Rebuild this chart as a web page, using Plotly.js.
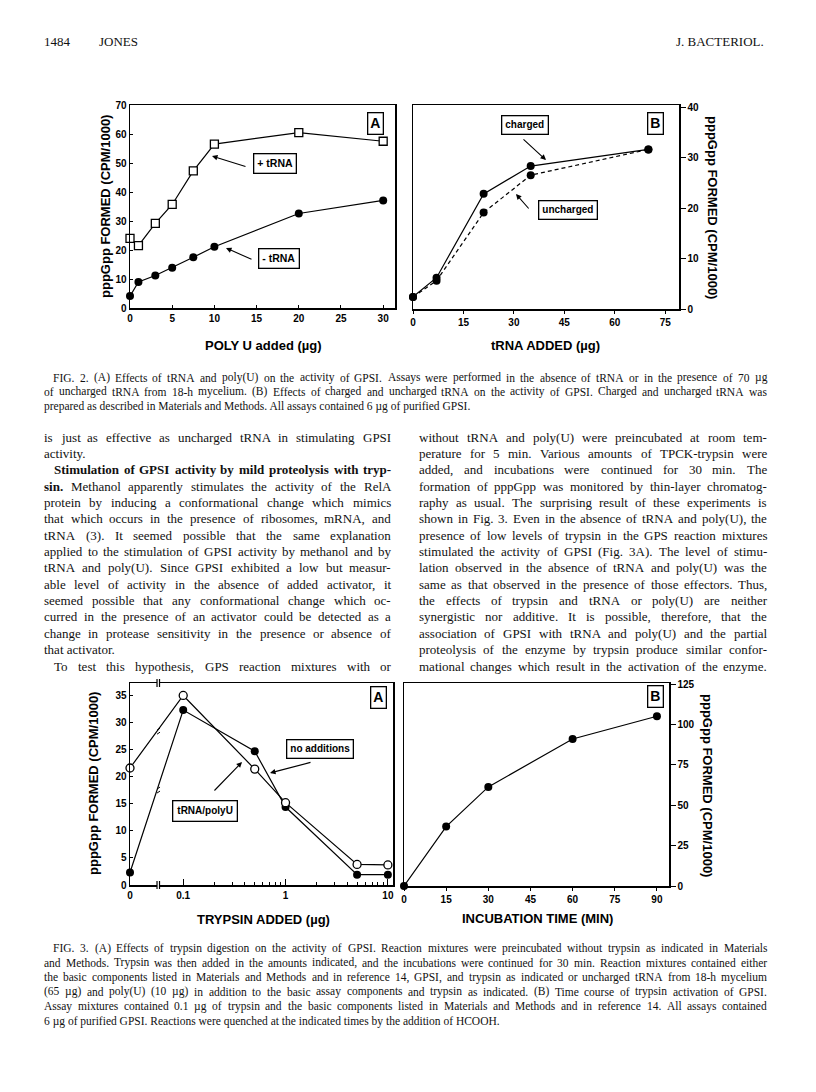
<!DOCTYPE html>
<html><head><meta charset="utf-8">
<script src="https://cdn.plot.ly/plotly-3.0.1.min.js"></script>
<style>html,body{margin:0;padding:0;background:#fff}#page{width:816px;height:1092px}</style>
</head><body><div id="page"></div>
<script>
// ---------- DATA ----------
// Fig 2A
const polyU = [0, 1, 3, 5, 7.5, 10, 20, 30];
const plusTRNA = [24, 21.5, 29.2, 35.7, 47.3, 56.5, 60.5, 57.5];
const minusTRNA = [4.1, 9, 11.2, 13.9, 17.5, 21.1, 32.6, 37.1];
// Fig 2B
const tRNAadded = [0, 7, 21, 35, 70];
const charged = [2.4, 6.2, 22.8, 28.3, 31.6];
const uncharged = [2.4, 5.6, 19.1, 26.5, 31.6];
// Fig 3A
const trypsin = [0, 0.1, 0.5, 1, 5, 10];
const tRNApolyU = [21.6, 35, 21.4, 15.2, 3.8, 3.7];
const noAdditions = [2.3, 32.3, 24.7, 14.4, 1.9, 1.9];
// Fig 3B
const incTime = [0, 15, 30, 60, 90];
const incFormed = [0, 36.8, 61.4, 91.1, 105.2];
// Ticks
const ticks2A_x = [0, 5, 10, 15, 20, 25, 30];
const ticks2A_y = [0, 10, 20, 30, 40, 50, 60, 70];
const ticks2B_x = [0, 15, 30, 45, 60, 75];
const ticks2B_y = [0, 10, 20, 30, 40];
const ticks3A_x = [0, 0.1, 1, 10];
const ticks3A_xText = ['0', '0.1', '1', '10'];
const minor3A_x = [0.2,0.3,0.4,0.5,0.6,0.7,0.8,0.9,2,3,4,5,6,7,8,9];
const ticks3A_y = [0, 5, 10, 15, 20, 25, 30, 35];
const ticks3B_x = [0, 15, 30, 45, 60, 75, 90];
const ticks3B_y = [0, 25, 50, 75, 100, 125];

// Text
const header = ['1484', 'JONES', 'J. BACTERIOL.'];
const cap2 = [
 'FIG. 2. (A) Effects of tRNA and poly(U) on the activity of GPSI. Assays were performed in the absence of tRNA or in the presence of 70 µg',
 'of uncharged tRNA from 18-h mycelium. (B) Effects of charged and uncharged tRNA on the activity of GPSI. Charged and uncharged tRNA was',
 'prepared as described in Materials and Methods. All assays contained 6 µg of purified GPSI.'
];
const bodyLeft = [
 'is just as effective as uncharged tRNA in stimulating GPSI',
 'activity.',
 'Stimulation of GPSI activity by mild proteolysis with tryp-',
 'sin. Methanol apparently stimulates the activity of the RelA',
 'protein by inducing a conformational change which mimics',
 'that which occurs in the presence of ribosomes, mRNA, and',
 'tRNA (3). It seemed possible that the same explanation',
 'applied to the stimulation of GPSI activity by methanol and by',
 'tRNA and poly(U). Since GPSI exhibited a low but measur-',
 'able level of activity in the absence of added activator, it',
 'seemed possible that any conformational change which oc-',
 'curred in the presence of an activator could be detected as a',
 'change in protease sensitivity in the presence or absence of',
 'that activator.',
 'To test this hypothesis, GPS reaction mixtures with or'
];
const bodyRight = [
 'without tRNA and poly(U) were preincubated at room tem-',
 'perature for 5 min. Various amounts of TPCK-trypsin were',
 'added, and incubations were continued for 30 min. The',
 'formation of pppGpp was monitored by thin-layer chromatog-',
 'raphy as usual. The surprising result of these experiments is',
 'shown in Fig. 3. Even in the absence of tRNA and poly(U), the',
 'presence of low levels of trypsin in the GPS reaction mixtures',
 'stimulated the activity of GPSI (Fig. 3A). The level of stimu-',
 'lation observed in the absence of tRNA and poly(U) was the',
 'same as that observed in the presence of those effectors. Thus,',
 'the effects of trypsin and tRNA or poly(U) are neither',
 'synergistic nor additive. It is possible, therefore, that the',
 'association of GPSI with tRNA and poly(U) and the partial',
 'proteolysis of the enzyme by trypsin produce similar confor-',
 'mational changes which result in the activation of the enzyme.'
];
const cap3 = [
 'FIG. 3. (A) Effects of trypsin digestion on the activity of GPSI. Reaction mixtures were preincubated without trypsin as indicated in Materials',
 'and Methods. Trypsin was then added in the amounts indicated, and the incubations were continued for 30 min. Reaction mixtures contained either',
 'the basic components listed in Materials and Methods and in reference 14, GPSI, and trypsin as indicated or uncharged tRNA from 18-h mycelium',
 '(65 µg) and poly(U) (10 µg) in addition to the basic assay components and trypsin as indicated. (B) Time course of trypsin activation of GPSI.',
 'Assay mixtures contained 0.1 µg of trypsin and the basic components listed in Materials and Methods and in reference 14. All assays contained',
 '6 µg of purified GPSI. Reactions were quenched at the indicated times by the addition of HCOOH.'
];

// ---------- LAYOUT HELPERS ----------
const W = 816, H = 1092;
const px = x => x / W, py = y => 1 - y / H;
const SERIF = 'Liberation Serif', SANS = 'Liberation Sans';
const ZERO_LOG = -1.52;      // display position of "0" on the broken log axis
const BREAK_LOG = -1.256;    // position of the axis break
const mapTryp = v => v === 0 ? Math.pow(10, ZERO_LOG) : v;

function draw() {
  const canvas = document.createElement('canvas');
  const ctx = canvas.getContext('2d');
  const measure = (t, size, bold) => { ctx.font = (bold ? 'bold ' : '') + size + 'px "' + SERIF + '"'; return ctx.measureText(t).width; };
  const ann = [];
  function textLine(t, x0, x1, y, size, justify, boldCount) {
    const words = t.split(' ');
    const bc = boldCount === 'all' ? words.length : (boldCount || 0);
    if (!justify && bc === 0) {
      ann.push({x: px(x0), y: py(y), xref: 'paper', yref: 'paper', xanchor: 'left', yanchor: 'middle',
        text: t, showarrow: false, borderpad: 0, font: {family: SERIF, size: size, color: '#111'}});
      return;
    }
    const ws = words.map((w, i) => measure(w, size, i < bc));
    const tot = ws.reduce((a, b) => a + b, 0);
    const gap = justify && words.length > 1 ? (x1 - x0 - tot) / (words.length - 1) : measure(' ', size, false);
    let x = x0;
    words.forEach((w, i) => {
      ann.push({x: px(x), y: py(y), xref: 'paper', yref: 'paper', xanchor: 'left', yanchor: 'middle',
        text: w, showarrow: false, borderpad: 0,
        font: {family: SERIF, size: size, color: '#111', weight: i < bc ? 'bold' : 'normal'}});
      x += ws[i] + gap;
    });
  }
  // header
  const hdr = (t, x, anchor) => ann.push({x: px(x), y: py(42), xref:'paper', yref:'paper', xanchor: anchor, yanchor:'middle',
    text: t, showarrow:false, font:{family:SERIF, size:13, color:'#111'}});
  hdr(header[0], 42, 'left'); hdr(header[1], 97, 'left'); hdr(header[2], 766, 'right');

  // captions
  const CL = 43, CR = 766;
  cap2.forEach((t, i) => textLine(t, i === 0 ? 52 : CL, CR, 377.5 + i * 14.4, 11.5, i < cap2.length - 1, 0));
  cap3.forEach((t, i) => textLine(t, i === 0 ? 52 : CL, CR, 948 + i * 14.6, 11.5, i < cap3.length - 1, 0));
  // body
  const B0 = 437, BS = 16.36;
  bodyLeft.forEach((t, i) => {
    const indent = (i === 2 || i === 14) ? 53 : 43;
    const justify = !(i === 1 || i === 13);
    const bold = i === 2 ? 'all' : (i === 3 ? 1 : 0);
    textLine(t, indent, 390, B0 + i * BS, 13, justify, bold);
  });
  bodyRight.forEach((t, i) => textLine(t, 418, 766, B0 + i * BS, 13, true, 0));

  // chart labels
  const lab = (t, cx, cy, size, pad) => ann.push({x: px(cx), y: py(cy), xref:'paper', yref:'paper', xanchor:'center', yanchor:'middle',
    text: t, showarrow:false, font:{family:SANS, size:size, weight:'bold', color:'#000'},
    bordercolor:'#000', borderwidth:1.3, borderpad:pad, bgcolor:'#fff'});
  const arr = (tx, ty, hx, hy) => ann.push({x: px(hx), y: py(hy), xref:'paper', yref:'paper', ax: tx - hx, ay: ty - hy,
    text:'', showarrow:true, arrowhead:2, arrowsize:1, arrowwidth:1.1, arrowcolor:'#000', standoff:0});
  const title = (t, cx, cy, angle) => ann.push({x: px(cx), y: py(cy), xref:'paper', yref:'paper', xanchor:'center', yanchor:'middle',
    text: t, showarrow:false, textangle: angle || 0, font:{family:SANS, size:13, weight:'bold', color:'#000'}});

  lab('A', 375, 123.5, 14, 2);
  lab('+ tRNA', 275, 163.5, 10.5, 3);
  arr(247, 167, 212, 156);
  lab('- tRNA', 278.5, 258.5, 10.5, 3);
  arr(253, 260, 226, 248);
  title('pppGpp FORMED (CPM/1000)', 105, 206, -90);
  title('POLY U added (µg)', 263, 345);

  lab('B', 655, 123, 14, 2);
  lab('charged', 524.5, 125, 10, 3);
  arr(522, 138, 546, 160);
  lab('uncharged', 567.5, 210, 10, 3);
  arr(530, 210, 516, 194);
  title('pppGpp FORMED (CPM/1000)', 713, 207, 90);
  title('tRNA ADDED (µg)', 545, 345);

  lab('A', 378, 697.5, 14, 2);
  lab('no additions', 319.5, 749, 10, 3);
  arr(312, 762, 270, 773);
  lab('tRNA/polyU', 204.5, 811, 10, 4);
  arr(213, 792, 242, 762);
  title('pppGpp FORMED (CPM/1000)', 93, 784, -90);
  title('TRYPSIN ADDED (µg)', 263, 919);

  lab('B', 655, 696, 14, 2);
  title('pppGpp FORMED (CPM/1000)', 708, 785, 90);
  title('INCUBATION TIME (MIN)', 537, 918);

  // ---------- TRACES ----------
  const ln = {color:'#000', width:1.2};
  const filled = {symbol:'circle', size:8, color:'#000'};
  const openC = {symbol:'circle', size:8, color:'#fff', line:{color:'#000', width:1.3}};
  const openS = {symbol:'square', size:8, color:'#fff', line:{color:'#000', width:1.3}};
  const base = {type:'scatter', mode:'lines+markers', cliponaxis:false, hoverinfo:'skip'};
  const tx3 = trypsin.map(mapTryp);
  const traces = [
    Object.assign({}, base, {x: polyU, y: minusTRNA, xaxis:'x', yaxis:'y', line: ln, marker: filled}),
    Object.assign({}, base, {x: polyU, y: plusTRNA, xaxis:'x', yaxis:'y', line: ln, marker: openS}),
    Object.assign({}, base, {x: tRNAadded, y: uncharged, xaxis:'x2', yaxis:'y2', line:{color:'#000', width:1.2, dash:'4px,3px'}, marker: filled}),
    Object.assign({}, base, {x: tRNAadded, y: charged, xaxis:'x2', yaxis:'y2', line: ln, marker: filled}),
    Object.assign({}, base, {x: tx3, y: noAdditions, xaxis:'x3', yaxis:'y3', line: ln, marker: filled}),
    Object.assign({}, base, {x: tx3, y: tRNApolyU, xaxis:'x3', yaxis:'y3', line: ln, marker: openC}),
    Object.assign({}, base, {x: incTime, y: incFormed, xaxis:'x4', yaxis:'y4', line: ln, marker: filled})
  ];

  // ---------- AXES ----------
  const tf = {family: SANS, size: 10, weight: 'bold', color: '#000'};
  const ax = (o) => Object.assign({showline:true, mirror:true, linecolor:'#000', linewidth:1.5, showgrid:false, zeroline:false,
    tickfont: tf, tickcolor:'#000', fixedrange:true}, o);
  const dom = (a, b) => [a / W, b / W];
  const domY = (top, bot) => [1 - bot / H, 1 - top / H];

  // break shapes for Fig 3A
  const shapes = [];
  const bx = Math.pow(10, BREAK_LOG);
  [0, 1].forEach(yd => {
    shapes.push({type:'rect', xref:'x3', yref:'y3 domain', xsizemode:'pixel', ysizemode:'pixel', xanchor: bx, yanchor: yd,
      x0:-2, x1:2, y0:-3, y1:3, fillcolor:'#fff', line:{width:0}});
    [-2.5, 2.5].forEach(dx => shapes.push({type:'line', xref:'x3', yref:'y3 domain', xsizemode:'pixel', ysizemode:'pixel',
      xanchor: bx, yanchor: yd, x0: dx, x1: dx, y0: -4, y1: 4, line:{color:'#000', width:1.2}}));
  });
  // break marks on the data lines between 0 and 0.1
  [noAdditions, tRNApolyU].forEach(s => {
    const t = (BREAK_LOG - ZERO_LOG) / (-1 - ZERO_LOG);
    const yb = s[0] + t * (s[1] - s[0]);
    [-2, 2].forEach(dy => shapes.push({type:'line', xref:'x3', yref:'y3', xsizemode:'pixel', ysizemode:'pixel',
      xanchor: bx, yanchor: yb, x0: -3, x1: 3, y0: dy - 1, y1: dy + 1, line:{color:'#000', width:1}}));
  });

  const layout = {
    width: W, height: H, margin: {l:0, r:0, t:0, b:0}, paper_bgcolor:'#fff', plot_bgcolor:'rgba(0,0,0,0)',
    showlegend:false, hovermode:false,
    xaxis: ax({domain: dom(130, 395), range:[0, 31.4], tickvals: ticks2A_x, ticks:'inside', ticklen:3, anchor:'y'}),
    yaxis: ax({domain: domY(105, 308), range:[0, 70], tickvals: ticks2A_y, ticks:'inside', ticklen:3, anchor:'x'}),
    xaxis2: ax({domain: dom(413, 679), range:[0, 79.1], tickvals: ticks2B_x, ticks:'outside', ticklen:3, anchor:'y2'}),
    yaxis2: ax({domain: domY(105, 309), range:[0, 40.4], tickvals: ticks2B_y, ticks:'outside', ticklen:5, side:'right', anchor:'x2'}),
    xaxis3: ax({domain: dom(130, 393), type:'log', range:[ZERO_LOG, 1.05], tickvals: ticks3A_x.map(mapTryp), ticktext: ticks3A_xText,
      ticks:'inside', ticklen:6, minor:{tickvals: minor3A_x, ticks:'inside', ticklen:3, tickcolor:'#000'}, anchor:'y3'}),
    yaxis3: ax({domain: domY(683, 885), range:[0, 37.3], tickvals: ticks3A_y, ticks:'inside', ticklen:3, anchor:'x3'}),
    xaxis4: ax({domain: dom(404, 669), range:[0, 94.3], tickvals: ticks3B_x, ticks:'outside', ticklen:3, anchor:'y4'}),
    yaxis4: ax({domain: domY(683, 886), range:[0, 125.8], tickvals: ticks3B_y, ticks:'outside', ticklen:5, side:'right', anchor:'x4'}),
    annotations: ann,
    shapes: shapes
  };
  Plotly.newPlot('page', traces, layout, {staticPlot:true});
}
const fl = [document.fonts.load('13px "Liberation Serif"'), document.fonts.load('bold 13px "Liberation Serif"')];
Promise.all(fl).then(draw, draw);
</script>
</body></html>
